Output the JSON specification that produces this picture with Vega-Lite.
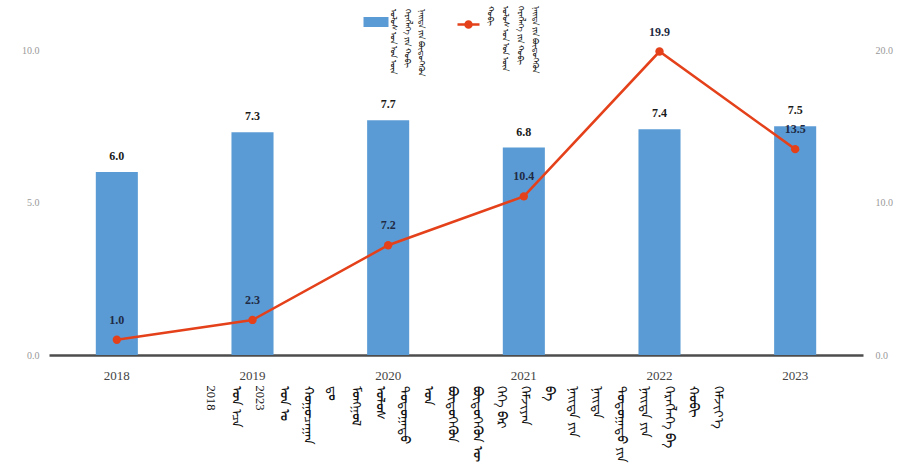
{
  "$schema": "https://vega.github.io/schema/vega-lite/v6.json",
  "autosize": "none",
  "width": 814,
  "height": 305,
  "padding": {"left": 49, "top": 50, "right": 53, "bottom": 110},
  "background": "white",
  "config": {"view": {"stroke": null}, "font": "Liberation Serif"},
  "data": {"values": [
    {"year": "2018", "bar": 6.0, "line": 1.0},
    {"year": "2019", "bar": 7.3, "line": 2.3},
    {"year": "2020", "bar": 7.7, "line": 7.2},
    {"year": "2021", "bar": 6.8, "line": 10.4},
    {"year": "2022", "bar": 7.4, "line": 19.9},
    {"year": "2023", "bar": 7.5, "line": 13.5}
  ]},
  "encoding": {
    "x": {"field": "year", "type": "ordinal", "scale": {"paddingInner": 0.69, "paddingOuter": 0.345},
      "axis": {
        "title": ["ᠬᠡᠮᠵᠢᠶ᠎ᠡ", "ᠬᠤᠪᠢ", "ᠬᠡᠷᠡᠭᠯᠡᠭᠡ ᠪᠠ", "ᠨᠡᠢᠲᠡ ᠶᠢᠨ", "ᠳᠣᠲᠣᠭᠠᠳᠤ ᠶᠢᠨ", "ᠨᠡᠢᠲᠡ", "ᠨᠡᠢᠲᠡ ᠶᠢᠨ", "ᠪᠠ", "ᠬᠡᠮᠵᠢᠶᠡᠨ", "ᠬᠡᠭᠡ ᠪᠡᠷ", "ᠪᠦᠲᠦᠭᠡᠬᠦᠨ ᠦ", "ᠪᠦᠲᠦᠭᠡᠬᠦᠨ", "ᠤᠨ", "ᠳᠣᠲᠣᠭᠠᠳᠤ", "ᠤᠯᠤᠰ", "ᠮᠣᠩᠭᠣᠯ", "ᠳᠤ", "ᠬᠤᠭᠤᠴᠠᠭᠠᠨ", "ᠣᠨ ᠤ", "2023", "ᠣᠨ ᠡᠴᠡ", "2018"],
        "titleAngle": 90, "titleAlign": "left", "titleBaseline": "middle", "titleX": 668, "titleY": 30,
        "titleLineHeight": 24.1, "titleFontSize": 12.5, "titleFontWeight": "normal", "titleColor": "#111", "titleFont": "Liberation Serif", "titleLimit": 2000,
        "labelAngle": 0, "ticks": false, "domainColor": "#4d4d4d", "domainWidth": 2.5, "labelFont": "Liberation Serif", "labelFontSize": 13, "labelColor": "#444", "labelPadding": 14}}
  },
  "layer": [
    {
      "layer": [
        {"mark": {"type": "bar"},
         "encoding": {
           "fill": {"datum": "ᠨᠡᠢᠲᠡ ᠶᠢᠨ ᠪᠦᠲᠦᠭᠡᠭᠳᠡᠬᠦᠨ", "scale": {"range": ["#5B9BD5"]},
             "legend": {"title": null, "orient": "none", "legendX": 317, "legendY": -38, "padding": 0, "labelExpr": "''", "symbolType": "M-1.25,-0.5H1.25V0.5H-1.25Z", "symbolSize": 400, "symbolStrokeWidth": 0}},
           "y": {"field": "bar", "type": "quantitative", "scale": {"domain": [0, 10]},
           "axis": {"title": ["ᠨᠡᠢᠲᠡ ᠶᠢᠨ ᠪᠦᠲᠦᠭᠡᠬᠦᠨ", "ᠬᠡᠷᠡᠭᠯᠡᠭᠡ ᠶᠢᠨ ᠬᠤᠪᠢ", "ᠤᠯᠤᠰ ᠤᠨ ᠡᠳ ᠦᠨ"],
             "titleAngle": 90, "titleAlign": "left", "titleBaseline": "middle", "titleX": 371, "titleY": -42, "titleLineHeight": 14, "titleFontSize": 8, "titleFontWeight": "normal", "titleColor": "#222", "titleLimit": 2000,
             "values": [0, 5, 10], "format": ".1f", "grid": false, "domain": false, "ticks": false, "labelFont": "Liberation Serif", "labelFontSize": 10, "labelColor": "#999", "labelPadding": 10}}}},
        {"mark": {"type": "text", "dy": -16, "fontWeight": "bold", "fontSize": 12, "color": "#1a1a1a", "font": "Liberation Serif"},
         "encoding": {"y": {"field": "bar", "type": "quantitative"}, "text": {"field": "bar", "type": "quantitative", "format": ".1f"}}}
      ]
    },
    {
      "layer": [
        {"mark": {"type": "line", "strokeWidth": 2.5},
         "encoding": {
           "stroke": {"datum": "ᠬᠤᠪᠢ", "scale": {"range": ["#E4411B"]},
             "legend": {"title": null, "orient": "none", "legendX": 408, "legendY": -37, "padding": 0, "labelExpr": "''", "symbolType": "M-1.1,0H1.1M-0.3,0A0.3,0.3,0,1,1,0.3,0A0.3,0.3,0,1,1,-0.3,0Z", "symbolSize": 400, "symbolStrokeWidth": 2.5, "symbolFillColor": "#E4411B", "symbolStrokeColor": "#E4411B"}},
           "y": {"field": "line", "type": "quantitative", "scale": {"domain": [0, 20]},
           "axis": {"title": ["ᠨᠡᠢᠲᠡ ᠶᠢᠨ ᠪᠦᠲᠦᠭᠡᠬᠦᠨ", "ᠬᠡᠷᠡᠭᠯᠡᠭᠡ ᠶᠢᠨ ᠬᠤᠪᠢ", "ᠤᠯᠤᠰ ᠤᠨ ᠡᠳ ᠦᠨ", "ᠬᠤᠪᠢ"],
             "titleAngle": 90, "titleAlign": "left", "titleBaseline": "middle", "titleX": -329, "titleY": -45, "titleLineHeight": 15, "titleFontSize": 8, "titleFontWeight": "normal", "titleColor": "#222", "titleLimit": 2000,
             "orient": "right", "values": [0, 10, 20], "format": ".1f", "grid": false, "domain": false, "ticks": false, "labelFont": "Liberation Serif", "labelFontSize": 10, "labelColor": "#999", "labelPadding": 12}}}},
        {"mark": {"type": "point", "filled": true, "opacity": 1, "color": "#E4411B", "size": 70},
         "encoding": {"y": {"field": "line", "type": "quantitative"}}},
        {"mark": {"type": "text", "dy": -20, "fontWeight": "bold", "fontSize": 12, "color": "#1f2a44", "font": "Liberation Serif"},
         "encoding": {"y": {"field": "line", "type": "quantitative"}, "text": {"field": "line", "type": "quantitative", "format": ".1f"}}}
      ]
    }
  ],
  "resolve": {"scale": {"y": "independent"}}
}
